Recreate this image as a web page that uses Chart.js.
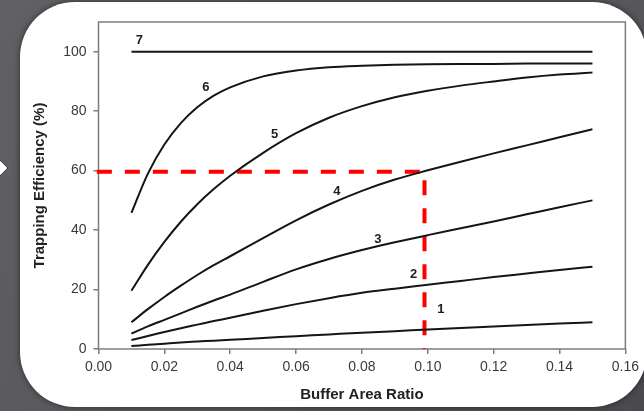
<!DOCTYPE html>
<html>
<head>
<meta charset="utf-8">
<script src="https://cdn.jsdelivr.net/npm/chart.js@4/dist/chart.umd.min.js"></script>
<style>
  html, body { margin: 0; padding: 0; width: 644px; height: 411px; overflow: hidden;
    background: linear-gradient(135deg, #616065 0%, #58575c 60%, #4a494d 100%); }
  #panel { position: absolute; left: 20px; top: 2px; width: 627px; height: 405px;
    background: #ffffff; border-radius: 55px; box-shadow: 0 0 6px rgba(0,0,0,0.55); }
  #chev { position: absolute; left: -8px; top: 161px; width: 12px; height: 12px;
    background: #fff; border: 1px solid #222; transform: rotate(45deg); }
  #c { position: absolute; left: 0; top: 0; }
</style>
</head>
<body>
<div id="panel"></div>
<div id="chev"></div>
<canvas id="c" width="644" height="411"></canvas>
<script>
// ---- data ----
const ratios = [0.01, 0.015, 0.02, 0.025, 0.03, 0.035, 0.04, 0.05, 0.06, 0.07, 0.08, 0.09, 0.10, 0.11, 0.12, 0.13, 0.14, 0.15];
const curve1 = [1.0, 1.4, 1.8, 2.2, 2.5, 2.8, 3.1, 3.7, 4.3, 4.9, 5.5, 6.0, 6.6, 7.1, 7.6, 8.1, 8.6, 9.0];
const curve2 = [3.0, 4.4, 5.7, 7.0, 8.2, 9.4, 10.5, 12.9, 15.1, 17.1, 18.9, 20.3, 21.6, 22.9, 24.2, 25.4, 26.6, 27.7];
const curve3 = [5.2, 7.6, 9.8, 12.0, 14.2, 16.3, 18.3, 22.6, 26.8, 30.3, 33.3, 35.9, 38.3, 40.6, 42.9, 45.3, 47.7, 50.0];
const curve4 = [9.0, 13.4, 17.5, 21.3, 24.9, 28.2, 31.2, 37.3, 43.3, 48.6, 53.2, 57.0, 60.1, 63.0, 65.8, 68.5, 71.2, 73.9];
const curve5 = [19.6, 28.3, 36.0, 42.8, 48.7, 53.8, 58.3, 66.0, 72.6, 77.8, 81.7, 84.7, 86.9, 88.6, 90.0, 91.3, 92.3, 93.0];
const curve6 = [45.8, 59.0, 68.8, 76.0, 81.3, 85.2, 88.0, 91.7, 93.7, 94.8, 95.3, 95.6, 95.8, 95.9, 95.9, 96.0, 96.0, 96.0];
const curve7 = [100, 100, 100, 100, 100, 100, 100, 100, 100, 100, 100, 100, 100, 100, 100, 100, 100, 100];
const curves = [curve1, curve2, curve3, curve4, curve5, curve6, curve7];

// guide line (red dashed): buffer ratio -> trapping efficiency
const guideX = [-0.0005, 0.099, 0.099];
const guideY = [59.6, 59.6, 0];

// curve labels
const labelText = ['1', '2', '3', '4', '5', '6', '7'];
const labelX = [0.104, 0.0957, 0.0848, 0.0724, 0.0535, 0.0326, 0.0124];
const labelY = [13.4, 25.1, 37.0, 52.9, 72.2, 87.9, 103.9];

const xTicks = [0, 0.02, 0.04, 0.06, 0.08, 0.10, 0.12, 0.14, 0.16];
const yTicks = [0, 20, 40, 60, 80, 100];

const FONT = '"Liberation Sans", Arial, sans-serif';
const AXIS_GRAY = '#7d7d7d';

const datasets = curves.map(vals => ({
  data: ratios.map((r, i) => ({ x: r, y: vals[i] })),
  borderColor: '#151515',
  borderWidth: 2,
  pointRadius: 0,
  fill: false,
  cubicInterpolationMode: 'monotone'
}));
datasets.push({
  data: guideX.map((g, i) => ({ x: g, y: guideY[i] })),
  borderColor: '#ff0000',
  borderWidth: 4,
  borderDash: [15, 13],
  pointRadius: 0,
  fill: false,
  tension: 0,
  clip: false
});

const boxPlugin = {
  id: 'box',
  beforeDatasetsDraw(chart) {
    const { ctx, chartArea: a } = chart;
    ctx.save();
    ctx.strokeStyle = AXIS_GRAY;
    ctx.lineWidth = 1.5;
    ctx.strokeRect(a.left, a.top, a.right - a.left, a.bottom - a.top);
    ctx.restore();
  }
};

const labelPlugin = {
  id: 'curveLabels',
  afterDatasetsDraw(chart) {
    const { ctx, scales: { x, y } } = chart;
    ctx.save();
    ctx.font = 'bold 13px ' + FONT;
    ctx.fillStyle = '#1e1e1e';
    ctx.textAlign = 'center';
    ctx.textBaseline = 'middle';
    labelText.forEach((t, i) => {
      ctx.fillText(t, x.getPixelForValue(labelX[i]), y.getPixelForValue(labelY[i]));
    });
    ctx.restore();
  }
};

new Chart(document.getElementById('c'), {
  type: 'line',
  data: { datasets },
  options: {
    responsive: false,
    animation: false,
    events: [],
    layout: { padding: { left: 0, top: 22, right: 18, bottom: 0 } },
    plugins: { legend: { display: false }, tooltip: { enabled: false } },
    scales: {
      x: {
        type: 'linear',
        min: 0, max: 0.16,
        afterFit(s) { s.height = 62; },
        afterBuildTicks(s) { s.ticks = xTicks.map(v => ({ value: v })); },
        border: { display: false },
        grid: { drawOnChartArea: false, drawTicks: true, tickLength: 5, color: AXIS_GRAY, lineWidth: 1.5 },
        ticks: { color: '#3a3a3a', font: { family: FONT, size: 14 }, padding: 5, maxRotation: 0,
          callback: v => Number(v).toFixed(2) },
        title: { display: true, text: 'Buffer Area Ratio', color: '#222',
          font: { family: FONT, size: 15, weight: 'bold' }, padding: { top: 0, bottom: 7 } }
      },
      y: {
        type: 'linear',
        min: 0, max: 110,
        afterFit(s) { s.width = 98.5; },
        afterBuildTicks(s) { s.ticks = yTicks.map(v => ({ value: v })); },
        border: { display: false },
        grid: { drawOnChartArea: false, drawTicks: true, tickLength: 5, color: AXIS_GRAY, lineWidth: 1.5 },
        ticks: { color: '#3a3a3a', font: { family: FONT, size: 14 }, padding: 7 },
        title: { display: true, text: 'Trapping Efficiency (%)', color: '#222',
          font: { family: FONT, size: 15, weight: 'bold' }, padding: { top: 31, bottom: 0 } }
      }
    }
  },
  plugins: [boxPlugin, labelPlugin]
});
</script>
</body>
</html>
